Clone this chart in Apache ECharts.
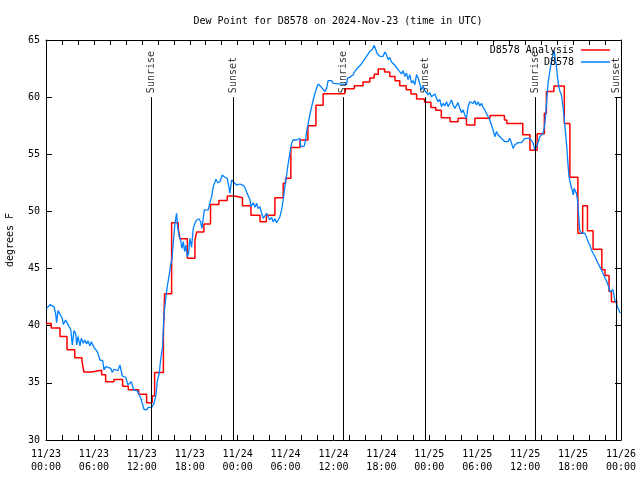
<!DOCTYPE html>
<html><head><meta charset="utf-8">
<script src="https://cdn.jsdelivr.net/npm/echarts@6/dist/echarts.min.js"></script>
<style>html,body{margin:0;padding:0;background:#fff}#c{width:640px;height:480px}</style>
</head><body><div id="c"></div>
<script>
const chartTitle = 'Dew Point for D8578 on 2024-Nov-23 (time in UTC)';
const xTickLabels = ['11/23\n00:00','11/23\n06:00','11/23\n12:00','11/23\n18:00','11/24\n00:00','11/24\n06:00','11/24\n12:00','11/24\n18:00','11/25\n00:00','11/25\n06:00','11/25\n12:00','11/25\n18:00','11/26\n00:00'];
const seriesNames = ['D8578 Analysis', 'D8578'];

// hours since 11/23 00:00 UTC
const anaHours = [0,0.66,1.75,2.63,3.6,4.5,4.75,5.7,6.97,7.47,8.5,9.6,10.3,11.6,12.6,13.3,13.6,14.7,14.85,15.73,16.56,16.77,17.7,18.65,18.86,19.77,20.6,21.65,22.7,23.65,24.6,25.66,26.8,27.6,28.66,29.7,30.0,30.66,31.8,32.8,33.8,34.7,37.4,38.6,39.7,40.55,41.1,41.6,42.4,43.05,43.7,44.3,45.1,45.7,46.4,47.4,48.2,48.8,49.5,50.6,51.6,52.65,53.7,55.6,57.4,57.7,59.7,60.6,61.5,62.4,62.66,63.6,64.9,65.6,66.6,67.2,67.8,68.5,69.6,70.0,70.5,70.8,71.6];
const anaDewF = [40.2,39.8,39.05,37.9,37.2,36.9,35.95,36.1,35.7,35.1,35.3,34.7,34.4,34.0,33.25,33.85,35.9,39.2,42.8,49.0,48.5,47.6,45.9,47.5,48.2,48.9,50.6,50.95,51.35,51.2,50.5,49.66,49.1,49.66,51.2,52.46,52.9,55.6,56.25,57.5,59.3,60.3,60.74,61.0,61.33,61.67,62.0,62.46,62.2,61.8,61.44,61.0,60.65,60.27,59.84,59.55,59.1,58.85,58.2,57.85,58.15,57.56,58.15,58.4,58.0,57.7,56.7,55.35,56.8,58.6,60.5,60.97,57.7,53.0,48.1,50.5,48.3,46.7,44.9,44.4,43.0,42.1,42.1];

const obsHours = [0.08,0.5,1.0,1.2,1.33,1.5,1.75,2.04,2.17,2.46,2.67,2.88,3.09,3.3,3.5,3.71,3.84,4.0,4.26,4.42,4.67,4.84,5.09,5.26,5.5,5.68,6.0,6.43,6.76,6.93,7.1,7.26,7.47,7.76,8.1,8.3,8.51,8.72,9.0,9.26,9.55,9.97,10.26,10.5,10.68,10.85,11.0,11.43,11.85,12.27,12.6,12.8,13.23,13.52,13.77,13.93,14.18,14.35,14.6,14.77,15.02,15.18,15.43,15.6,15.77,15.93,16.15,16.35,16.48,16.69,16.85,17.02,17.19,17.36,17.52,17.69,17.86,18.02,18.23,18.44,18.65,18.86,19.19,19.36,19.52,19.69,19.82,20.32,20.53,20.74,20.94,21.28,21.49,21.78,22.07,22.4,22.69,22.86,23.03,23.24,23.44,23.86,24.28,24.62,24.9,25.19,25.53,25.66,25.95,26.16,26.37,26.57,26.78,27.0,27.2,27.41,27.62,27.82,28.03,28.25,28.45,28.66,28.87,29.07,29.29,29.5,29.7,29.91,30.13,30.33,30.54,30.75,30.95,31.37,31.58,31.79,31.91,32.13,32.33,32.5,32.67,32.92,33.17,33.46,33.67,33.88,34.08,34.29,34.5,34.7,34.92,35.13,35.33,35.76,35.96,36.17,37.63,37.76,38.05,38.26,38.46,38.67,38.89,39.01,39.17,39.42,39.71,39.92,40.14,40.34,40.55,40.68,40.84,41.09,41.26,41.43,41.59,41.8,42.01,42.22,42.43,42.64,42.84,43.05,43.27,43.47,43.68,43.89,44.09,44.3,44.52,44.72,44.93,45.14,45.34,45.56,45.77,45.97,46.18,46.4,46.6,46.81,47.02,47.22,47.43,47.65,47.85,48.06,48.27,48.47,48.69,48.9,49.1,49.31,49.52,49.73,49.94,50.15,50.35,50.56,50.78,50.98,51.19,51.4,51.6,51.81,52.03,52.23,52.44,52.65,52.85,53.07,53.28,53.48,53.69,53.9,54.11,54.32,54.53,54.73,54.94,55.16,55.36,55.57,55.78,55.98,56.2,56.41,56.61,56.82,57.03,57.23,57.45,57.65,57.86,58.07,58.29,58.49,58.7,58.9,59.1,59.54,59.74,59.95,60.58,60.79,60.99,61.2,61.41,61.61,61.83,62.04,62.24,62.45,62.58,62.7,62.87,63.08,63.29,63.49,63.62,63.79,63.92,64.04,64.21,64.37,64.54,64.74,64.87,65.04,65.21,65.37,65.49,65.71,65.87,66.04,66.12,66.29,66.42,66.55,66.71,66.83,67.05,67.25,67.46,67.67,67.87,68.09,68.3,68.5,68.71,68.92,69.12,69.34,69.55,69.75,69.96,70.17,70.38,70.59,70.8,71.0,71.22,71.43,71.63,71.92];
const obsDewF = [41.52,41.84,41.67,41.09,40.27,41.32,41.03,40.65,40.12,40.5,40.56,39.92,39.69,38.32,39.57,39.34,38.32,39.04,38.23,38.9,38.46,38.75,38.4,38.69,38.23,38.6,38.11,37.73,37.0,36.86,36.94,36.13,36.42,36.36,36.27,35.9,36.19,36.27,36.07,36.57,35.6,35.49,34.82,34.96,35.1,35.19,34.38,34.29,33.7,32.69,32.63,32.86,32.86,33.2,33.94,35.1,35.84,37.0,38.17,40.94,42.54,43.42,44.44,45.31,45.75,47.2,48.96,49.84,48.67,47.79,47.5,46.77,47.36,46.48,47.06,46.04,46.33,47.65,46.86,48.52,48.96,49.25,49.34,49.1,48.52,49.4,50.13,50.13,50.77,51.3,52.17,52.81,52.51,52.6,53.19,52.99,52.9,52.31,51.58,52.75,52.6,52.31,52.4,52.31,52.1,51.58,51.05,50.42,50.77,50.36,50.71,50.24,50.42,49.84,49.4,49.54,49.84,49.69,49.25,49.48,49.1,49.37,49.02,49.25,49.54,50.13,51.0,52.17,53.19,54.21,55.09,55.96,56.25,56.25,56.1,56.4,55.67,55.81,55.72,56.25,57.13,58.0,58.88,59.75,60.33,60.77,61.15,60.98,60.86,60.69,60.48,60.77,61.44,61.44,61.21,61.12,61.09,61.67,61.73,61.62,61.97,62.26,62.17,62.55,62.4,62.84,63.13,63.28,63.57,63.72,64.01,63.86,64.15,64.53,64.24,63.86,63.72,63.57,63.43,63.57,63.95,63.72,63.28,63.48,63.08,63.19,62.79,62.9,62.4,62.26,62.03,62.32,61.82,62.11,61.53,61.97,61.24,61.44,61.09,61.97,61.68,61.53,60.65,60.95,60.6,60.57,60.19,60.4,60.04,60.1,60.28,59.9,59.6,59.81,59.17,59.46,59.23,59.6,59.17,59.46,59.75,59.31,59.02,59.17,59.52,59.02,58.64,58.88,58.44,58.15,59.17,59.6,59.75,59.46,59.69,59.31,59.6,59.23,59.46,59.11,58.88,58.73,58.29,58.0,57.56,57.13,56.54,56.98,56.69,56.83,56.4,56.54,56.1,56.25,56.1,56.4,55.96,55.52,55.81,55.96,56.02,56.02,56.1,56.4,56.4,56.25,56.0,55.38,55.44,56.0,56.54,56.69,56.83,57.56,58.58,59.75,61.21,62.23,63.1,63.69,64.07,63.25,62.67,61.79,60.92,60.48,60.19,59.17,58.29,56.98,55.67,54.06,53.04,52.31,51.88,51.44,52.02,52.17,51.58,51.0,49.54,48.38,48.09,48.15,48.09,47.79,47.36,47.06,46.63,46.34,46.1,45.75,45.46,45.17,44.88,44.59,44.24,43.94,43.57,42.98,42.84,43.13,42.25,41.96,41.52,41.09];

const sunHours = [13.18, 23.45, 37.2, 47.47, 61.25, 71.4];
const sunLabels = ['Sunrise','Sunset','Sunrise','Sunset','Sunrise','Sunset'];
const sunLineFrom = 30, sunLineTo = 60;

const FONT = 'DejaVu Sans Mono';
const txt = {fontFamily: FONT, fontSize: 10, color: '#000', fontWeight: 'normal'};
const zip = (a, b) => a.map((v, i) => [v, b[i]]);

const xBase = {
  type: 'value', min: 0, max: 72, interval: 6,
  axisLine: {show: true, onZero: false, lineStyle: {color: '#000', width: 1}},
  axisTick: {show: true, inside: true, length: 5, lineStyle: {color: '#000', width: 1}},
  minorTick: {show: true, splitNumber: 3, length: 5, lineStyle: {color: '#000', width: 1}},
  splitLine: {show: false}, minorSplitLine: {show: false}
};
const yBase = {
  type: 'value', min: 30, max: 65, interval: 5,
  axisLine: {show: true, onZero: false, lineStyle: {color: '#000', width: 1}},
  axisTick: {show: true, inside: true, length: 6, lineStyle: {color: '#000', width: 1}},
  splitLine: {show: false}
};
const lineIcon = 'path://M0,0L29,0L29,1.5L0,1.5Z';

const chart = echarts.init(document.getElementById('c'), null, {renderer: 'canvas'});
chart.setOption({
  animation: false,
  backgroundColor: '#fff',
  title: {text: chartTitle, left: 333, top: 11, textAlign: 'center', textStyle: Object.assign({}, txt)},
  grid: {left: 46, top: 40, width: 575, height: 400, containLabel: false, outerBoundsMode: 'none'},
  legend: {
    data: seriesNames.map(n => ({name: n, icon: lineIcon})), orient: 'vertical', right: 30, top: 45, padding: 0,
    align: 'right', itemWidth: 29, itemHeight: 10, itemGap: 2,
    textStyle: Object.assign({}, txt, {padding: [0, 2, 0, 0]}),
    selectedMode: false
  },
  xAxis: [
    Object.assign({}, xBase, {position: 'bottom',
      axisLabel: Object.assign({}, txt, {margin: 8, lineHeight: 13, formatter: v => xTickLabels[Math.round(v / 6)]})}),
    Object.assign({}, xBase, {position: 'top', axisLabel: {show: false}})
  ],
  yAxis: [
    Object.assign({}, yBase, {position: 'left', name: 'degrees F', nameLocation: 'middle', nameGap: 31, nameRotate: 90,
      nameTextStyle: Object.assign({}, txt), axisLabel: Object.assign({}, txt, {margin: 6})}),
    Object.assign({}, yBase, {position: 'right', axisLabel: {show: false}})
  ],
  series: [
    {name: seriesNames[0], type: 'line', step: 'end', data: zip(anaHours, anaDewF), symbol: 'none', showSymbol: false,
      lineStyle: {color: '#ff0000', width: 1.5}, itemStyle: {color: '#ff0000'}, z: 2},
    {name: seriesNames[1], type: 'line', data: zip(obsHours, obsDewF), symbol: 'none', showSymbol: false,
      lineStyle: {color: '#0080ff', width: 1.3}, itemStyle: {color: '#0080ff'}, z: 3},
    {name: 'sun', type: 'scatter', symbolSize: 0, silent: true, z: 4,
      data: sunHours.map((h, i) => [h, sunLineTo, sunLabels[i]]),
      label: Object.assign({}, txt, {show: true, formatter: p => p.value[2], position: 'top', distance: 4,
        rotate: 90, align: 'left', verticalAlign: 'middle'}),
      markLine: {silent: true, symbol: ['none', 'none'], label: {show: false},
        lineStyle: {color: '#000', width: 1, type: 'solid'},
        data: sunHours.map(h => [{coord: [h, sunLineFrom]}, {coord: [h, sunLineTo]}])}}
  ]
});
</script>
</body></html>
